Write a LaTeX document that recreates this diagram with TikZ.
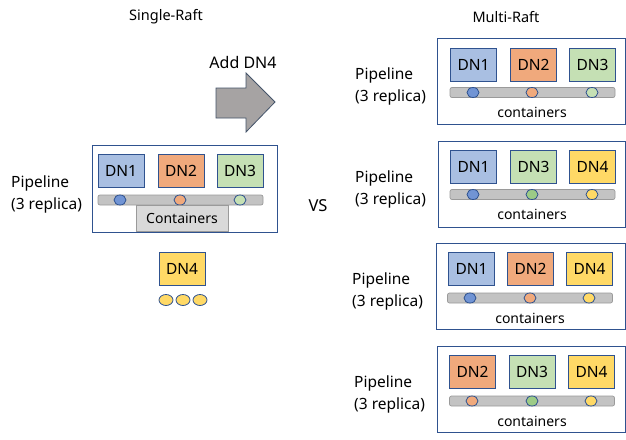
\documentclass[tikz,border=0pt]{standalone}
\usepackage{fontspec}
\setmainfont{Noto Sans}
\usetikzlibrary{shapes.geometric}
\definecolor{edge}{HTML}{2F528F}
\definecolor{blueF}{HTML}{A9BFE2}
\definecolor{orangeF}{HTML}{F0A97C}
\definecolor{greenF}{HTML}{C5E0B4}
\definecolor{yellowF}{HTML}{FFD966}
\definecolor{blueD}{HTML}{7194D4}
\definecolor{greenD}{HTML}{9CCB86}
\definecolor{barF}{HTML}{C3C3C3}
\definecolor{barE}{HTML}{9A9A9A}
\definecolor{arrowF}{HTML}{A6A3A3}
\definecolor{arrowE}{HTML}{44546A}
\tikzset{
  txt/.style={font=\fontsize{14}{16}\selectfont, inner sep=0pt},
  ttl/.style={font=\fontsize{14.5}{16}\selectfont, inner sep=0pt},
  lbl/.style={font=\fontsize{15.5}{22}\selectfont, inner sep=0pt, align=left, anchor=west},
  dnbox/.style={draw=edge, line width=0.9pt, minimum width=46pt, minimum height=33pt, inner sep=0pt, font=\fontsize{15.5}{17}\selectfont},
  pbox/.style={draw=edge, line width=0.9pt, inner sep=0pt},
  bar/.style={draw=barE, fill=barF, line width=0.7pt, rounded corners=2pt, minimum width=165pt, minimum height=10pt, inner sep=0pt},
  dot/.style={ellipse, draw=edge, line width=0.8pt, minimum width=12pt, minimum height=10pt, inner sep=0pt},
}
\begin{document}
\begin{tikzpicture}[x=1pt,y=-1pt]
\useasboundingbox[fill=white] (0,0) rectangle (626,439);
% titles
\node[ttl] (tsingle) at (166,17) {Single-Raft};
\node[ttl] (tmulti) at (506,17) {Multi-Raft};
\node[txt, font=\fontsize{16}{18}\selectfont] (tadd) at (243,62) {Add DN4};
\node[txt, font=\fontsize{16.5}{18}\selectfont] (tvs) at (318,206) {VS};
% block arrow
\draw[fill=arrowF, draw=arrowE, line width=0.8pt]
  (216,88) -- (246,88) -- (246,73) -- (275,102) -- (246,132) -- (246,118) -- (216,118) -- cycle;
% left pipeline
\node[pbox, minimum width=185pt, minimum height=87pt] (lp) at (184.5,188.5) {};
\node[lbl] (lpl) at (11,194) {Pipeline\\(3 replica)};
\node[dnbox, fill=blueF] (l1) at (121,170.5) {DN1};
\node[dnbox, fill=orangeF] (l2) at (181,170.5) {DN2};
\node[dnbox, fill=greenF] (l3) at (240,170.5) {DN3};
\node[bar] (lbar) at (180.5,200) {};
\node[dot, fill=blueD] (ld1) at (120,200) {};
\node[dot, fill=orangeF] (ld2) at (180,200) {};
\node[dot, fill=greenF] (ld3) at (240,200) {};
\node[draw=barE, fill=black!15, line width=0.7pt, minimum width=92pt, minimum height=26pt, inner sep=0pt, font=\fontsize{14}{16}\selectfont] (lcont) at (182,218) {Containers};
% DN4 alone
\node[dnbox, fill=yellowF] (l4) at (182,268.5) {DN4};
\node[dot, fill=yellowF, minimum width=14pt, minimum height=11pt] (le1) at (166,300) {};
\node[dot, fill=yellowF, minimum width=14pt, minimum height=11pt] (le2) at (183,300) {};
\node[dot, fill=yellowF, minimum width=14pt, minimum height=11pt] (le3) at (200,300) {};
% right box 1
\node[pbox, minimum width=188pt, minimum height=86pt] (r1) at (531,81) {};
\node[lbl] (r1l) at (355,86) {Pipeline\\(3 replica)};
\node[dnbox, fill=blueF] (r1a) at (473.5,65) {DN1};
\node[dnbox, fill=orangeF] (r1b) at (533.5,65) {DN2};
\node[dnbox, fill=greenF] (r1c) at (592.5,65) {DN3};
\node[bar] (r1bar) at (532.5,92.5) {};
\node[dot, fill=blueD] (r1d1) at (473,92.5) {};
\node[dot, fill=orangeF] (r1d2) at (532,92.5) {};
\node[dot, fill=greenF] (r1d3) at (592,92.5) {};
\node[txt] (r1t) at (532,112) {containers};
% right box 2
\node[pbox, minimum width=187pt, minimum height=86pt] (r2) at (531.5,184) {};
\node[lbl] (r2l) at (355,189) {Pipeline\\(3 replica)};
\node[dnbox, fill=blueF] (r2a) at (473.5,167) {DN1};
\node[dnbox, fill=greenF] (r2b) at (533.5,167) {DN3};
\node[dnbox, fill=yellowF] (r2c) at (592.5,167) {DN4};
\node[bar] (r2bar) at (532.5,194.5) {};
\node[dot, fill=blueD] (r2d1) at (473,194.5) {};
\node[dot, fill=greenD] (r2d2) at (532,194.5) {};
\node[dot, fill=yellowF] (r2d3) at (592,194.5) {};
\node[txt] (r2t) at (532,214) {containers};
% right box 3
\node[pbox, minimum width=189pt, minimum height=86pt] (r3) at (530.5,286) {};
\node[lbl] (r3l) at (352,291) {Pipeline\\(3 replica)};
\node[dnbox, fill=blueF] (r3a) at (471.5,268.5) {DN1};
\node[dnbox, fill=orangeF] (r3b) at (530.5,268.5) {DN2};
\node[dnbox, fill=yellowF] (r3c) at (589.5,268.5) {DN4};
\node[bar] (r3bar) at (530,298) {};
\node[dot, fill=blueD] (r3d1) at (470,298) {};
\node[dot, fill=orangeF] (r3d2) at (530,298) {};
\node[dot, fill=yellowF] (r3d3) at (589,298) {};
\node[txt] (r3t) at (530,318) {containers};
% right box 4
\node[pbox, minimum width=188pt, minimum height=86pt] (r4) at (531,389) {};
\node[lbl] (r4l) at (354,394) {Pipeline\\(3 replica)};
\node[dnbox, fill=orangeF] (r4a) at (472.5,372) {DN2};
\node[dnbox, fill=greenF] (r4b) at (532,372) {DN3};
\node[dnbox, fill=yellowF] (r4c) at (591.5,372) {DN4};
\node[bar] (r4bar) at (532,401) {};
\node[dot, fill=orangeF] (r4d1) at (472,401) {};
\node[dot, fill=greenD] (r4d2) at (532,401) {};
\node[dot, fill=yellowF] (r4d3) at (591,401) {};
\node[txt] (r4t) at (532,421) {containers};
\end{tikzpicture}
\end{document}
